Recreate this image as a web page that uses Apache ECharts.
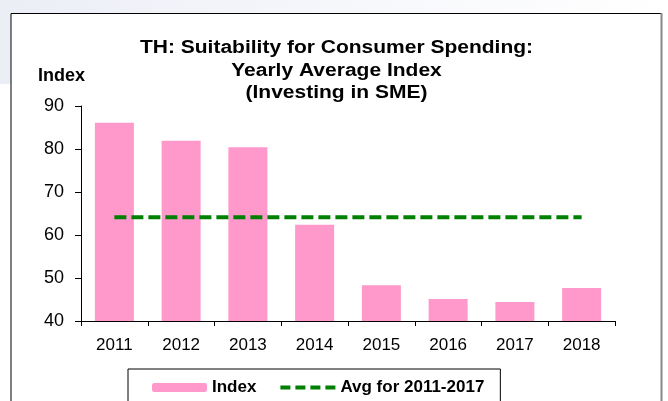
<!doctype html>
<html>
<head>
<meta charset="utf-8">
<script src="https://cdn.jsdelivr.net/npm/echarts@6/dist/echarts.min.js"></script>
<style>
  html, body { margin: 0; padding: 0; background: #fff; }
  #chart { width: 668px; height: 401px; }
</style>
</head>
<body>
<div id="chart"></div>
<script>
  // values
  var years = ['2011', '2012', '2013', '2014', '2015', '2016', '2017', '2018'];
  var indexValues = [86.1, 81.9, 80.4, 62.4, 48.3, 45.1, 44.4, 47.7];
  var avgValues = [64.1, 64.1, 64.1, 64.1, 64.1, 64.1, 64.1, 64.1];
  var yTicks = { min: 40, max: 90, interval: 10 };
  var titleText = 'TH: Suitability for Consumer Spending:\nYearly Average Index\n(Investing in SME)';

  var font = 'Arial, "Liberation Sans", sans-serif';
  var chart = echarts.init(document.getElementById('chart'));

  chart.setOption({
    animation: false,
    textStyle: { fontFamily: font, color: '#000' },
    graphic: [
      {
        type: 'rect', silent: true, z: -10,
        shape: { x: 0, y: 0, width: 668, height: 13 },
        style: { fill: new echarts.graphic.LinearGradient(0, 0, 1, 0, [
          { offset: 0, color: '#eceef6' }, { offset: 0.5, color: '#f6f7fb' }, { offset: 1, color: '#ffffff' }]) }
      },
      {
        type: 'rect', silent: true, z: -10,
        shape: { x: 0, y: 0, width: 11, height: 84 },
        style: { fill: '#eceef6' }
      },
      {
        type: 'polyline', silent: true,
        shape: { points: [[11, 420], [11, 13.5], [661, 13.5]] },
        style: { stroke: '#000', lineWidth: 1, fill: null }
      },
      {
        type: 'line', silent: true,
        shape: { x1: 661.5, y1: 13, x2: 661.5, y2: 420 },
        style: { stroke: '#888', lineWidth: 2 }
      },
      {
        // chart title, drawn a little wide like the source picture
        type: 'text', x: 336.5, y: 37, scaleX: 1.2,
        style: { text: titleText, x: 0, y: 0, align: 'center', verticalAlign: 'top',
                 font: 'bold 17.5px ' + font, lineHeight: 22.5, fill: '#000' }
      },
      {
        type: 'text', left: 38, top: 67,
        style: { text: 'Index', font: 'bold 18px ' + font, fill: '#000' }
      }
    ],
    legend: {
      left: 128,
      top: 369,
      padding: [10, 16, 20, 24],
      borderColor: '#000',
      borderWidth: 1,
      itemWidth: 55,
      itemHeight: 9,
      itemGap: 22,
      textStyle: { fontFamily: font, fontSize: 17, fontWeight: 'bold', color: '#000' },
      data: [
        { name: 'Index' },
        { name: 'Avg for 2011-2017', itemStyle: { opacity: 0 }, lineStyle: { type: [10, 5], width: 4 } }
      ]
    },
    grid: { left: 81, right: 53, top: 106, bottom: 80 },
    xAxis: {
      type: 'category',
      data: years,
      axisLine: { lineStyle: { color: '#000', width: 1 } },
      axisTick: { show: true, length: 5, lineStyle: { color: '#000' } },
      axisLabel: { fontSize: 17, color: '#000', margin: 16, fontFamily: font }
    },
    yAxis: {
      type: 'value',
      min: yTicks.min,
      max: yTicks.max,
      interval: yTicks.interval,
      axisLine: { show: true, lineStyle: { color: '#000', width: 1 } },
      axisTick: { show: true, length: 6, lineStyle: { color: '#000' } },
      splitLine: { show: false },
      axisLabel: { fontSize: 18, color: '#000', margin: 17, fontFamily: font }
    },
    series: [
      {
        name: 'Index',
        type: 'bar',
        data: indexValues,
        barWidth: 39,
        itemStyle: { color: '#ff99cc' }
      },
      {
        name: 'Avg for 2011-2017',
        type: 'line',
        data: avgValues,
        symbol: 'none',
        itemStyle: { color: '#008000' },
        lineStyle: { color: '#008000', width: 4, type: [12, 5] }
      }
    ]
  });
</script>
</body>
</html>
